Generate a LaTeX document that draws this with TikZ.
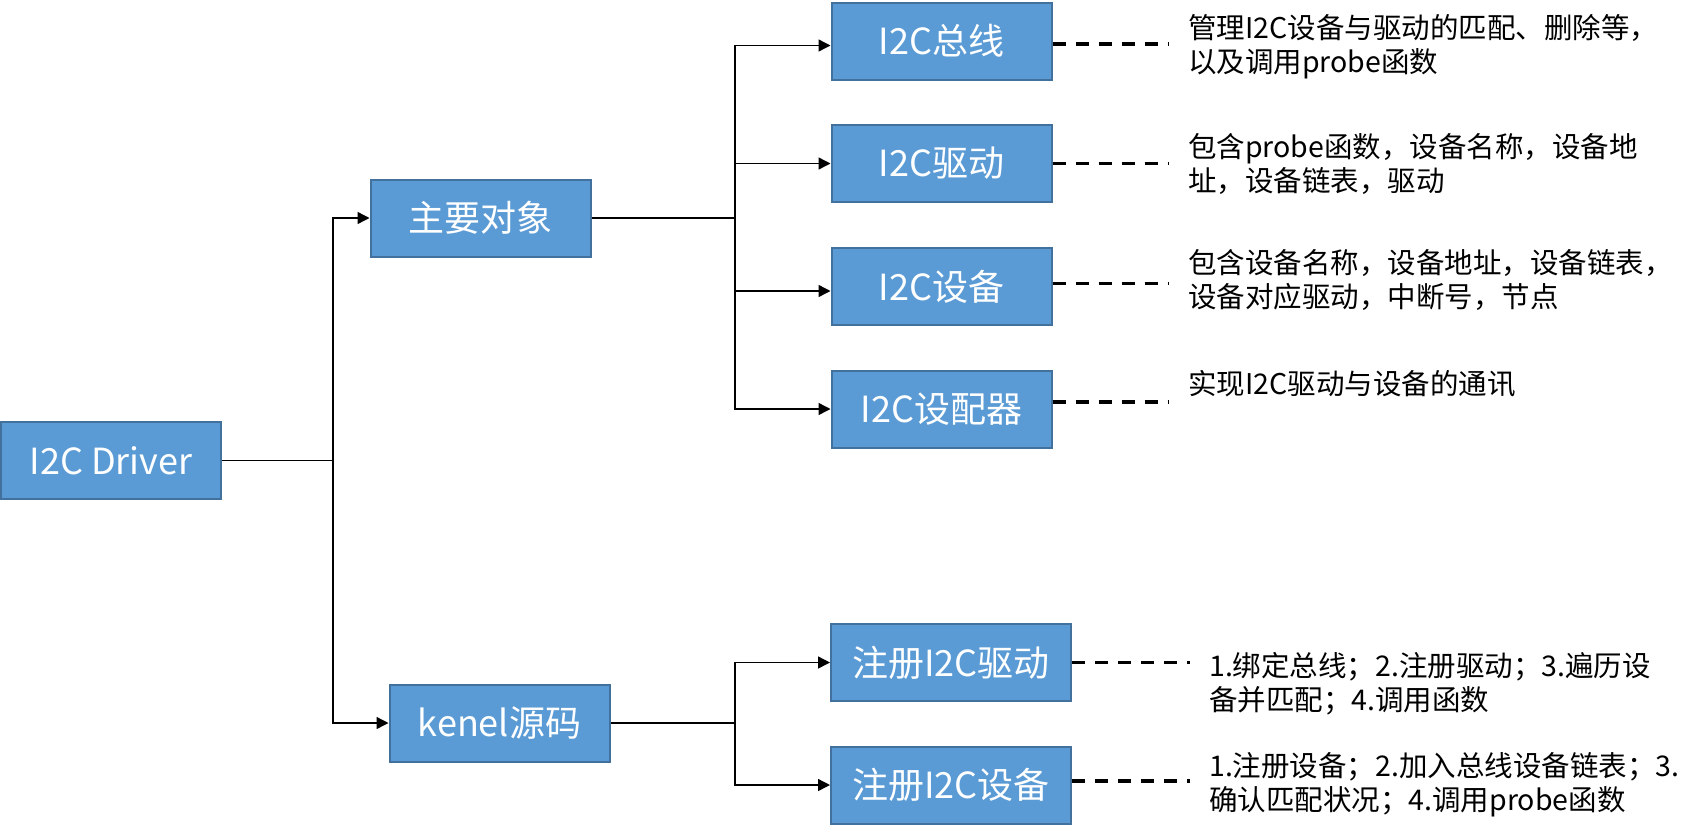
\documentclass[tikz,border=0pt]{standalone}
\usepackage{fontspec}
\setmainfont{Noto Sans CJK SC}
\usetikzlibrary{arrows.meta}
\definecolor{boxfill}{HTML}{5B9BD5}
\definecolor{boxline}{HTML}{41719C}
\begin{document}
\begin{tikzpicture}[x=1pt,y=-1pt,
  box/.style={draw=boxline, fill=boxfill, line width=2pt, text=white,
    minimum height=77pt, minimum width=220pt, inner sep=0pt,
    font=\fontsize{36}{40}\selectfont},
  widebox/.style={box, minimum width=240pt},
  conn/.style={line width=1.4pt, black},
  arr/.style={conn, -{Triangle[length=12pt,width=12pt]}},
  dashln/.style={line width=3.5pt, dash pattern=on 13pt off 10pt, shorten >=19pt},
  note/.style={anchor=north west, inner sep=0pt, align=left,
    font=\fontsize{28.5}{34}\selectfont}]
\useasboundingbox (0,0) rectangle (1702,833);

% boxes
\node[box] (drv)  at (111,460.5)  {I2C Driver};
\node[box] (obj)  at (480.5,218)  {主要对象};
\node[box] (src)  at (499.5,723)  {kenel源码};
\node[box] (bus)  at (941.5,41)   {I2C总线};
\node[box] (idrv) at (941.5,163.5){I2C驱动};
\node[box] (idev) at (941.5,286.5){I2C设备};
\node[box] (adap) at (941.5,409)  {I2C设配器};
\node[widebox] (rdrv) at (951,662.5) {注册I2C驱动};
\node[widebox] (rdev) at (951,785)   {注册I2C设备};

% notes
\node[note] (t1) at (1188,14)  {管理I2C设备与驱动的匹配、删除等，\\以及调用probe函数};
\node[note] (t2) at (1188,133) {包含probe函数，设备名称，设备地\\址，设备链表，驱动};
\node[note] (t3) at (1188,249) {包含设备名称，设备地址，设备链表，\\设备对应驱动，中断号，节点};
\node[note] (t4) at (1188,370) {实现I2C驱动与设备的通讯};
\node[note] (t5) at (1209,652) {1.绑定总线；2.注册驱动；3.遍历设\\备并匹配；4.调用函数};
\node[note] (t6) at (1209,752) {1.注册设备；2.加入总线设备链表；3.\\确认匹配状况；4.调用probe函数};

% junctions
\coordinate (j1) at (333,460.5);
\coordinate (j2) at (735,218);
\coordinate (j3) at (735,723);

% connectors
\draw[conn] (drv.east) -- (j1);
\draw[arr] (j1) |- (obj.west);
\draw[arr] (j1) |- (src.west);

\draw[conn] (obj.east) -- (j2);
\draw[arr] (j2) |- ([yshift=-4.5pt]bus.west);
\draw[arr] (j2) |- (idrv.west);
\draw[arr] (j2) |- ([yshift=-4.5pt]idev.west);
\draw[arr] (j2) |- (adap.west);

\draw[conn] (src.east) -- (j3);
\draw[arr] (j3) |- (rdrv.west);
\draw[arr] (j3) |- (rdev.west);

% dashed links
\draw[dashln] ([yshift=-3pt]bus.east) -- ([yshift=-3pt]bus.east -| t1.west);
\draw[dashln] (idrv.east) -- (idrv.east -| t2.west);
\draw[dashln] ([yshift=3pt]idev.east) -- ([yshift=3pt]idev.east -| t3.west);
\draw[dashln] ([yshift=7pt]adap.east) -- ([yshift=7pt]adap.east -| t4.west);
\draw[dashln] (rdrv.east) -- (rdrv.east -| t5.west);
\draw[dashln] ([yshift=4pt]rdev.east) -- ([yshift=4pt]rdev.east -| t6.west);
\end{tikzpicture}
\end{document}
